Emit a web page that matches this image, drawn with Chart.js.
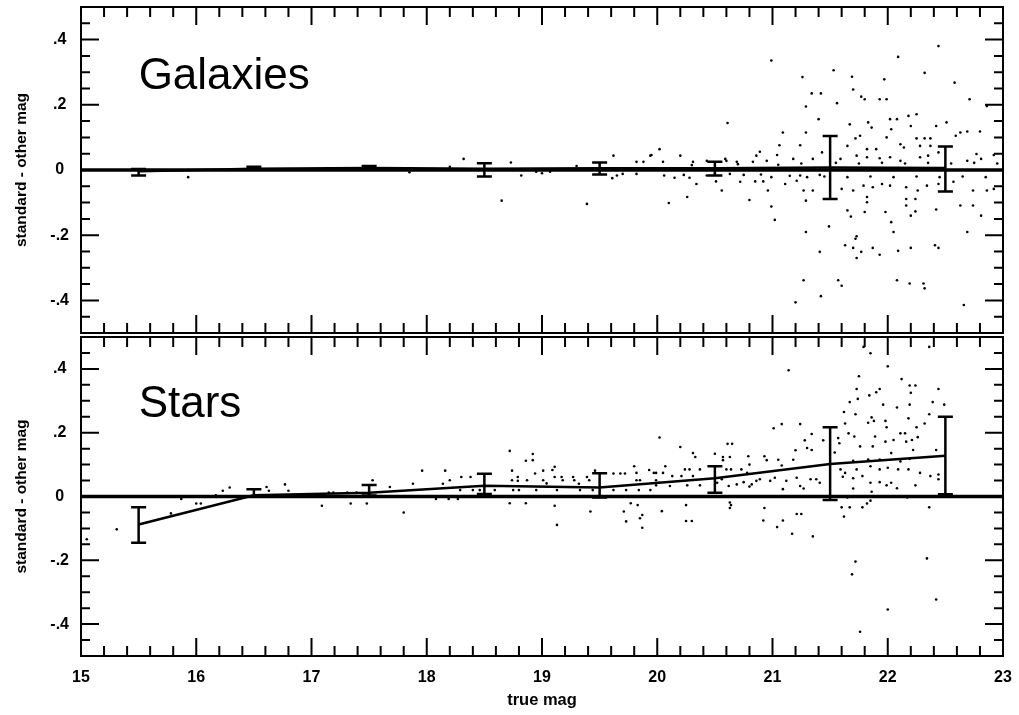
<!DOCTYPE html>
<html>
<head>
<meta charset="utf-8">
<script src="https://cdn.jsdelivr.net/npm/chart.js@4.4.1/dist/chart.umd.min.js"></script>
<style>
  body { margin: 0; background: #fff; }
  #wrap { position: relative; width: 1019px; height: 715px; }
  canvas { position: absolute; left: 0; }
  #top { top: 0; }
  #bot { top: 333px; }
</style>
</head>
<body>
<div id="wrap">
  <canvas id="top" width="1019" height="340"></canvas>
  <canvas id="bot" width="1019" height="382"></canvas>
</div>
<script>
// magnitude bins used for means and error bars
const magBins = [15.5, 16.5, 17.5, 18.5, 19.5, 20.5, 21.5, 22.5];

const galMean = [-0.004, 0.004, 0.006, 0.004, 0.005, 0.005, 0.008, 0.006];
const galLow = [-0.017, 0.002, 0.003, -0.02, -0.014, -0.017, -0.089, -0.066];
const galHigh = [0.003, 0.01, 0.012, 0.021, 0.023, 0.025, 0.104, 0.072];

const starMean = [-0.088, 0.004, 0.012, 0.034, 0.028, 0.057, 0.102, 0.128];
const starLow = [-0.145, 0.0, 0.003, 0.008, -0.003, 0.012, -0.011, 0.007];
const starHigh = [-0.034, 0.023, 0.036, 0.071, 0.073, 0.095, 0.217, 0.25];

const zeroLine = [[15, 0], [23, 0]];

const xTicks = [15, 16, 17, 18, 19, 20, 21, 22, 23];
const yTicks = [-0.4, -0.2, 0, 0.2, 0.4];
const yTickLabels = ['-.4', '-.2', '0', '.2', '.4'];

const galaxyPoints = [
  [15.93,-0.022],[17.85,-0.007],[18.2,0.01],[18.32,0.034],[18.65,-0.094],[18.73,0.023],[18.82,-0.017],
  [18.95,-0.005],[19.0,-0.01],[19.07,-0.005],[19.3,0.012],[19.39,-0.104],[19.61,-0.025],[19.62,0.044],
  [19.65,-0.017],[19.7,-0.012],[19.82,0.025],[19.82,-0.012],[19.88,0.025],[19.94,0.044],[19.95,0.046],
  [20.02,0.064],[20.05,0.025],[20.06,-0.017],[20.1,-0.101],[20.15,-0.024],[20.2,0.044],[20.23,-0.015],
  [20.26,-0.083],[20.28,-0.024],[20.3,0.015],[20.31,0.025],[20.34,-0.043],[20.43,0.028],[20.43,-0.017],
  [20.5,-0.012],[20.51,-0.035],[20.56,-0.063],[20.59,0.034],[20.6,0.028],[20.61,0.144],[20.63,-0.012],
  [20.69,0.025],[20.7,0.018],[20.72,-0.036],[20.75,-0.015],[20.8,-0.092],[20.83,0.025],[20.85,-0.035],
  [20.86,0.044],[20.89,0.056],[20.9,-0.014],[20.92,-0.035],[20.95,0.028],[20.96,-0.063],[20.99,0.336],
  [20.99,-0.112],[20.99,-0.022],[21.02,-0.153],[21.04,0.046],[21.05,0.016],[21.06,0.076],[21.09,0.115],
  [21.11,-0.043],[21.15,-0.018],[21.18,0.034],[21.2,-0.406],[21.21,-0.033],[21.24,0.076],[21.24,-0.017],
  [21.25,0.02],[21.26,0.285],[21.27,-0.063],[21.27,-0.338],[21.29,0.195],[21.29,0.115],[21.29,-0.094],
  [21.29,-0.19],[21.3,-0.022],[21.34,0.235],[21.35,-0.063],[21.35,0.034],[21.4,0.156],[21.41,-0.251],
  [21.41,-0.015],[21.42,0.235],[21.42,-0.387],[21.43,0.054],[21.45,-0.02],[21.49,-0.173],[21.53,0.306],
  [21.55,0.022],[21.56,0.205],[21.57,-0.338],[21.59,0.034],[21.6,-0.355],[21.6,-0.058],[21.63,-0.231],
  [21.65,0.074],[21.65,-0.124],[21.65,-0.022],[21.67,0.14],[21.68,-0.143],[21.69,0.286],[21.7,0.247],
  [21.7,-0.063],[21.7,-0.239],[21.72,0.097],[21.72,-0.211],[21.73,0.044],[21.73,-0.203],[21.73,-0.27],
  [21.75,0.02],[21.76,0.105],[21.77,0.225],[21.77,-0.251],[21.79,-0.048],[21.8,0.217],[21.8,-0.129],
  [21.82,0.064],[21.82,0.039],[21.82,-0.083],[21.82,-0.099],[21.83,0.146],[21.85,-0.02],[21.86,0.13],
  [21.87,-0.053],[21.87,-0.239],[21.9,0.064],[21.93,0.217],[21.93,0.036],[21.93,-0.26],[21.95,-0.043],
  [21.95,0.022],[21.97,0.278],[21.98,-0.129],[21.99,0.217],[21.99,0.1],[22.02,0.156],[22.02,0.039],
  [22.02,-0.048],[22.03,0.125],[22.03,-0.16],[22.05,-0.19],[22.05,-0.022],[22.08,0.156],[22.08,-0.338],
  [22.09,0.347],[22.09,-0.248],[22.11,0.079],[22.11,0.028],[22.14,0.069],[22.15,0.02],[22.16,-0.089],
  [22.16,-0.109],[22.16,-0.053],[22.18,0.166],[22.19,-0.348],[22.2,0.135],[22.2,-0.14],[22.2,-0.239],
  [22.24,-0.089],[22.24,-0.127],[22.25,0.171],[22.25,0.097],[22.25,-0.02],[22.26,-0.063],[22.28,0.074],
  [22.28,0.039],[22.31,-0.348],[22.32,0.298],[22.32,0.097],[22.32,-0.363],[22.34,-0.048],[22.35,0.044],
  [22.35,0.022],[22.37,0.097],[22.37,0.074],[22.41,-0.231],[22.42,0.135],[22.42,-0.121],[22.44,0.38],
  [22.44,0.054],[22.44,-0.043],[22.44,-0.239],[22.45,-0.022],[22.51,0.146],[22.55,0.02],[22.57,-0.036],
  [22.58,0.268],[22.59,0.105],[22.63,0.115],[22.63,-0.109],[22.65,-0.02],[22.66,-0.414],[22.69,0.118],
  [22.69,-0.19],[22.69,0.028],[22.71,0.217],[22.74,-0.109],[22.74,-0.063],[22.75,0.022],[22.77,0.049],
  [22.8,0.118],[22.81,-0.14],[22.81,0.034],[22.85,-0.022],[22.86,0.196],[22.86,-0.063],[22.92,0.046],
  [22.92,-0.058],[22.95,0.02]
];

const starPoints = [
  [15.05,-0.134],[15.31,-0.103],[15.78,-0.053],[15.87,-0.008],[16.0,-0.022],[16.04,-0.022],[16.17,0.004],
  [16.23,0.018],[16.29,0.028],[16.61,0.03],[16.63,0.018],[16.77,0.038],[16.8,0.018],[17.09,-0.029],
  [17.15,0.012],[17.19,0.012],[17.31,0.012],[17.34,-0.022],[17.39,0.012],[17.48,-0.022],[17.53,0.051],
  [17.68,0.03],[17.8,-0.05],[17.88,0.04],[17.96,0.081],[18.08,-0.008],[18.14,0.04],[18.16,0.081],
  [18.19,-0.008],[18.2,0.051],[18.27,-0.008],[18.29,0.02],[18.3,0.061],[18.38,0.061],[18.4,0.02],
  [18.46,0.02],[18.59,0.02],[18.72,0.143],[18.72,-0.021],[18.74,0.081],[18.74,0.051],[18.75,0.02],
  [18.79,0.061],[18.79,0.049],[18.8,0.02],[18.86,0.112],[18.86,-0.021],[18.87,0.051],[18.92,0.133],
  [18.92,0.114],[18.94,0.072],[18.95,0.02],[19.01,0.081],[19.01,0.051],[19.04,0.041],[19.09,0.083],
  [19.11,0.093],[19.11,0.061],[19.11,-0.029],[19.13,0.02],[19.13,-0.089],[19.17,0.061],[19.18,0.051],
  [19.27,0.061],[19.28,0.051],[19.32,0.04],[19.33,0.02],[19.39,0.061],[19.41,0.051],[19.42,-0.047],
  [19.44,0.02],[19.46,0.081],[19.62,0.072],[19.62,0.02],[19.68,0.072],[19.71,-0.047],[19.72,0.072],
  [19.73,-0.078],[19.73,0.02],[19.77,-0.021],[19.8,0.095],[19.82,0.074],[19.82,0.051],[19.83,-0.027],
  [19.84,0.02],[19.85,0.051],[19.85,-0.068],[19.87,-0.058],[19.87,-0.098],[19.93,0.083],[19.94,0.02],
  [19.97,0.074],[19.99,0.074],[19.99,0.051],[19.99,0.035],[20.02,0.043],[20.02,0.185],[20.04,-0.046],
  [20.05,0.074],[20.07,0.095],[20.11,0.033],[20.13,0.064],[20.2,0.155],[20.21,0.064],[20.24,0.085],
  [20.25,-0.027],[20.25,-0.077],[20.26,0.035],[20.28,0.085],[20.3,-0.077],[20.31,0.136],[20.31,0.064],
  [20.33,0.124],[20.37,0.085],[20.37,0.035],[20.5,0.134],[20.52,0.043],[20.56,0.054],[20.57,0.124],
  [20.57,0.114],[20.6,0.085],[20.61,0.165],[20.62,0.033],[20.63,0.124],[20.63,-0.019],[20.63,-0.036],
  [20.64,0.085],[20.64,-0.027],[20.65,0.165],[20.69,0.038],[20.73,0.085],[20.75,0.045],[20.78,0.074],
  [20.79,0.126],[20.8,0.1],[20.8,0.031],[20.82,0.038],[20.86,0.049],[20.89,0.054],[20.92,-0.075],
  [20.93,0.126],[20.93,-0.036],[20.95,0.114],[20.98,0.049],[21.01,0.214],[21.02,0.059],[21.04,-0.096],
  [21.05,0.115],[21.08,0.227],[21.08,0.097],[21.09,0.023],[21.09,-0.075],[21.12,0.049],[21.14,0.396],
  [21.17,-0.117],[21.18,0.115],[21.2,0.145],[21.21,0.059],[21.21,-0.055],[21.24,0.227],[21.24,0.033],
  [21.25,-0.055],[21.27,0.025],[21.28,0.176],[21.3,0.152],[21.33,0.054],[21.34,0.196],[21.34,0.146],
  [21.35,-0.125],[21.38,0.054],[21.41,0.043],[21.44,0.176],[21.54,0.138],[21.57,0.183],[21.58,0.167],
  [21.59,0.085],[21.6,-0.034],[21.61,0.062],[21.62,0.265],[21.62,-0.063],[21.63,0.229],[21.63,0.074],
  [21.65,-0.003],[21.66,0.198],[21.67,0.296],[21.67,-0.034],[21.69,-0.244],[21.7,0.112],[21.7,0.057],
  [21.7,0.025],[21.71,0.188],[21.72,0.258],[21.72,-0.204],[21.73,0.337],[21.73,0.085],[21.74,0.306],
  [21.75,0.377],[21.76,0.157],[21.76,-0.424],[21.78,0.064],[21.78,-0.034],[21.79,0.469],[21.82,-0.022],
  [21.83,0.231],[21.83,0.116],[21.84,0.317],[21.85,0.449],[21.85,0.095],[21.85,0.043],[21.85,-0.013],
  [21.86,0.248],[21.86,0.015],[21.87,0.157],[21.88,0.237],[21.89,0.188],[21.9,0.327],[21.93,0.337],
  [21.93,0.116],[21.93,0.085],[21.93,0.045],[21.96,0.288],[21.98,0.237],[21.98,0.172],[21.99,0.217],
  [21.99,0.035],[22.0,0.408],[22.0,0.09],[22.0,-0.354],[22.03,0.136],[22.03,0.043],[22.05,0.177],
  [22.08,0.279],[22.08,0.026],[22.09,0.085],[22.11,0.198],[22.11,0.11],[22.12,0.368],[22.15,0.198],
  [22.16,0.172],[22.17,-0.003],[22.18,0.245],[22.18,0.085],[22.19,0.348],[22.19,0.288],[22.19,0.118],
  [22.2,0.325],[22.21,0.177],[22.22,0.146],[22.24,0.348],[22.24,0.035],[22.25,0.217],[22.26,0.186],
  [22.28,0.074],[22.32,0.229],[22.34,-0.194],[22.36,0.469],[22.36,0.258],[22.36,-0.034],[22.37,0.064],
  [22.39,0.296],[22.42,0.146],[22.42,-0.323],[22.44,0.337],[22.44,0.069],[22.44,0.054],[22.49,0.288]
];

const FONT = '"Liberation Sans", Arial, Helvetica, sans-serif';

// frame, inward ticks, error bars and panel name
const framePlugin = {
  id: 'frame',
  afterDatasetsDraw(chart, args, opts) {
    const { ctx, chartArea: a, scales: { x, y } } = chart;
    ctx.save();
    ctx.strokeStyle = '#000';
    ctx.lineCap = 'butt';

    ctx.lineWidth = 2.5;
    magBins.forEach((m, i) => {
      const px = x.getPixelForValue(m);
      const y1 = y.getPixelForValue(opts.low[i]);
      const y2 = y.getPixelForValue(opts.high[i]);
      ctx.beginPath();
      ctx.moveTo(px, y1); ctx.lineTo(px, y2);
      ctx.moveTo(px - 7.5, y1); ctx.lineTo(px + 7.5, y1);
      ctx.moveTo(px - 7.5, y2); ctx.lineTo(px + 7.5, y2);
      ctx.stroke();
    });

    ctx.lineWidth = 2;
    ctx.strokeRect(a.left, a.top, a.width, a.height);

    ctx.beginPath();
    for (let i = 0; i <= 40; i++) {
      const px = x.getPixelForValue(15 + i * 0.2);
      const len = i % 5 === 0 ? 18 : 10;
      ctx.moveTo(px, a.top); ctx.lineTo(px, a.top + len);
      ctx.moveTo(px, a.bottom); ctx.lineTo(px, a.bottom - len);
    }
    for (let i = 0; i <= 20; i++) {
      const py = y.getPixelForValue(-0.5 + i * 0.05);
      const len = (i - 10) % 4 === 0 ? 18 : 9;
      ctx.moveTo(a.left, py); ctx.lineTo(a.left + len, py);
      ctx.moveTo(a.right, py); ctx.lineTo(a.right - len, py);
    }
    ctx.stroke();

    ctx.fillStyle = '#000';
    ctx.font = '44px ' + FONT;
    ctx.textAlign = 'left';
    ctx.textBaseline = 'alphabetic';
    ctx.fillText(opts.label, x.getPixelForValue(15.5), y.getPixelForValue(0.25));
    ctx.restore();
  }
};

function makePanel(id, points, mean, low, high, label, bottom) {
  const xScale = {
    type: 'linear', min: 15, max: 23,
    display: bottom,
    afterBuildTicks: s => { s.ticks = xTicks.map(v => ({ value: v })); },
    afterFit: s => {
      if (bottom) s.height = 59;
      s.paddingLeft = 0; s.paddingRight = 0;
    },
    grid: { display: false, drawTicks: false },
    border: { display: false },
    ticks: { padding: 12, color: '#000', maxRotation: 0, autoSkip: false,
      font: { family: FONT, size: 16, weight: 'bold' } },
    title: { display: true, text: 'true mag', color: '#000', padding: { top: 0, bottom: 5 },
      font: { family: FONT, size: 16.5, weight: 'bold' } }
  };
  const yScale = {
    type: 'linear', min: -0.5, max: 0.5,
    afterBuildTicks: s => { s.ticks = yTicks.map(v => ({ value: v })); },
    afterFit: s => { s.width = 81; s.paddingTop = 0; s.paddingBottom = 0; },
    grid: { display: false, drawTicks: false },
    border: { display: false },
    ticks: { crossAlign: 'center', padding: 12, color: '#000',
      callback: (v, i) => yTickLabels[i],
      font: { family: FONT, size: 16, weight: 'bold' } },
    title: { display: true, text: 'standard - other mag', color: '#000', padding: { top: 12, bottom: 0 },
      font: { family: FONT, size: 15.5, weight: 'bold' } }
  };

  return new Chart(document.getElementById(id), {
    type: 'scatter',
    data: {
      datasets: [
        {
          type: 'scatter',
          data: points.map(([x, y]) => ({ x, y })),
          pointRadius: 1.3,
          pointBorderWidth: 0,
          backgroundColor: '#000',
          order: 3
        },
        {
          type: 'line',
          data: zeroLine.map(([x, y]) => ({ x, y })),
          borderColor: '#000',
          borderWidth: 3.5,
          pointRadius: 0,
          fill: false,
          order: 2
        },
        {
          type: 'line',
          data: magBins.map((m, i) => ({ x: m, y: mean[i] })),
          borderColor: '#000',
          borderWidth: 2.5,
          pointRadius: 0,
          tension: 0,
          fill: false,
          order: 1
        }
      ]
    },
    options: {
      responsive: false,
      animation: false,
      devicePixelRatio: 1,
      events: [],
      layout: { padding: bottom ? { top: 0, right: 16, bottom: 0, left: 0 } : { top: 7, right: 16, bottom: 7, left: 0 } },
      scales: { x: xScale, y: yScale },
      plugins: {
        legend: { display: false },
        tooltip: { enabled: false },
        frame: { label, low, high }
      }
    },
    plugins: [framePlugin]
  });
}

makePanel('top', galaxyPoints, galMean, galLow, galHigh, 'Galaxies', false);
makePanel('bot', starPoints, starMean, starLow, starHigh, 'Stars', true);
</script>
</body>
</html>
